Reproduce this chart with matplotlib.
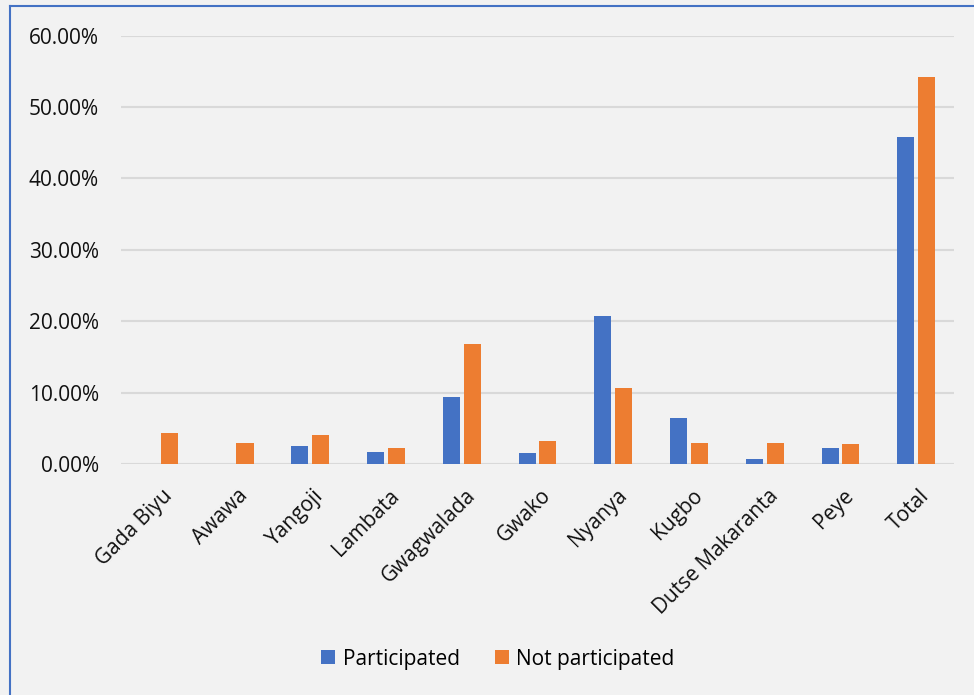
import matplotlib.pyplot as plt
import numpy as np
from matplotlib.lines import Line2D
from matplotlib.ticker import PercentFormatter
from matplotlib.transforms import ScaledTranslation

areas = ['Gada Biyu', 'Awawa', 'Yangoji', 'Lambata', 'Gwagwalada', 'Gwako',
         'Nyanya', 'Kugbo', 'Dutse Makaranta', 'Peye', 'Total']
participated = [0.0, 0.0, 2.57, 1.73, 9.40, 1.54, 20.80, 6.45, 0.70, 2.24, 45.80]
not_participated = [4.35, 3.03, 4.11, 2.24, 16.87, 3.31, 10.66, 3.03, 3.03, 2.80, 54.20]

BLUE = '#4472c4'
ORANGE = '#ed7d31'
BG = '#f2f2f2'

plt.rcParams['font.family'] = ['Open Sans', 'DejaVu Sans']

fig = plt.figure(figsize=(9.74, 6.95), dpi=100, facecolor=BG)
ax = fig.add_axes([0.1242, 0.3319, 0.8553, 0.6170])
ax.set_facecolor(BG)

x = np.arange(len(areas))
w = 0.225
ax.bar(x - 0.1375, participated, w, color=BLUE, label='Participated', zorder=3)
ax.bar(x + 0.1375, not_participated, w, color=ORANGE, label='Not participated', zorder=3)

ax.set_xlim(-0.5, len(areas) - 0.5)
ax.set_ylim(0, 60)
ax.set_yticks(np.arange(0, 61, 10))
ax.yaxis.set_major_formatter(PercentFormatter(decimals=2))
ax.grid(axis='y', color='#d9d9d9', linewidth=1.5, zorder=0)
for s in ax.spines.values():
    s.set_visible(False)
ax.tick_params(axis='both', length=0, labelsize=15, colors='#111111')
ax.tick_params(axis='y', pad=16)
ax.set_xticks(x)
ax.set_xticklabels(areas, rotation=45, ha='right', rotation_mode='anchor')
ax.tick_params(axis='x', pad=15)
shift = ScaledTranslation(3 / 100, 0, fig.dpi_scale_trans)
for lbl in ax.get_xticklabels():
    lbl.set_transform(lbl.get_transform() + shift)

ax.legend(loc='center', bbox_to_anchor=(498 / 974, 1 - 659 / 695), bbox_transform=fig.transFigure,
          ncol=2, frameon=False, fontsize=15, handlelength=0.67, handleheight=0.67,
          columnspacing=1.7, handletextpad=0.35)

# border of the chart box (left and top edges)
fig.add_artist(Line2D([10 / 974, 10 / 974], [0, 1 - 6 / 695], color=BLUE, linewidth=1.5,
                      transform=fig.transFigure))
fig.add_artist(Line2D([10 / 974, 1], [1 - 6 / 695, 1 - 6 / 695], color=BLUE, linewidth=1.5,
                      transform=fig.transFigure))

fig.savefig('out.png', dpi=100, facecolor=BG)
